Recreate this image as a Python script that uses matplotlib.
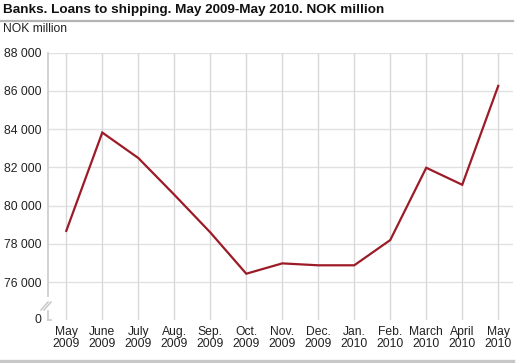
import matplotlib
matplotlib.use("Agg")
import matplotlib.pyplot as plt
from matplotlib.lines import Line2D

plt.rcParams['font.family'] = ['Liberation Sans', 'DejaVu Sans']

months = ["May\n2009", "June\n2009", "July\n2009", "Aug.\n2009", "Sep.\n2009",
          "Oct.\n2009", "Nov.\n2009", "Dec.\n2009", "Jan.\n2010", "Feb.\n2010",
          "March\n2010", "April\n2010", "May\n2010"]
loans = [78680, 83820, 82490, 80570, 78600, 76440, 76980, 76880, 76880,
         78200, 81980, 81090, 86260]
ytick_values = [76000, 78000, 80000, 82000, 84000, 86000, 88000]
ytick_labels = ["76 000", "78 000", "80 000", "82 000", "84 000", "86 000", "88 000"]
zero_pos = 74080  # broken axis: 0 drawn just below 76 000

W, H = 521, 363
fig = plt.figure(figsize=(W / 100, H / 100), dpi=100)

left, right, top, bottom = 48, 513, 52.6, 320
ax = fig.add_axes([left / W, 1 - bottom / H, (right - left) / W, (bottom - top) / H])

x = list(range(len(months)))
ax.plot(x, loans, color="#9b1b27", lw=1.6, solid_joinstyle="miter", zorder=3)

ax.set_xlim(-0.508, 12.41)
ax.set_ylim(74020, 88000)

ax.set_yticks([zero_pos] + ytick_values)
ax.set_yticklabels(["0"] + ytick_labels)
ax.set_xticks(x)
ax.set_xticklabels(months, linespacing=0.92)

for v in ytick_values:
    ax.axhline(v, color="#e1e1e1", lw=1.0, zorder=1)
for xi in x:
    ax.axvline(xi, color="#d9d9dc", lw=1.0, zorder=1)

for s in ax.spines.values():
    s.set_visible(False)
ax.tick_params(axis="both", length=0, labelsize=8.7, colors="#222222")
ax.tick_params(axis="y", pad=4.5)
ax.tick_params(axis="x", pad=4.5)

# left axis line with break
def px(xp, yp):
    return xp / W, 1 - yp / H

axis_col = "#cfcfcf"
fig.add_artist(Line2D(*zip(px(47.8, 52.6), px(47.8, 296)), color=axis_col, lw=1.3))
fig.add_artist(Line2D(*zip(px(47.8, 311), px(47.8, 320)), color=axis_col, lw=1.3))
fig.add_artist(Line2D(*zip(px(47.8, 320), px(51, 320)), color=axis_col, lw=1.3))
for d in (0, 3):
    fig.add_artist(Line2D(*zip(px(41 + d, 310), px(48 + d, 302)), color="#c8c8c8", lw=1.1))

# title and decorations
fig.text(3 / W, 1 - 9.5 / H, "Banks. Loans to shipping. May 2009-May 2010. NOK million",
         fontsize=9.7, fontweight="bold", va="center", ha="left", color="#111111")
fig.add_artist(Line2D(*zip(px(0, 21), px(513, 21)), color="#b4b4b4", lw=1.6))
fig.text(3.3 / W, 1 - 29 / H, "NOK million", fontsize=8.7, va="center", ha="left", color="#222222")
fig.add_artist(Line2D(*zip(px(0, 360.5), px(513, 360.5)), color="#c8c8c8", lw=2.4))

fig.savefig("out.png", dpi=100)
